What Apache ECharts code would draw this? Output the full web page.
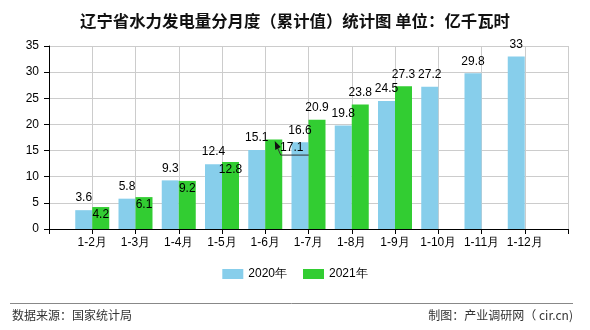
<!DOCTYPE html>
<html>
<head>
<meta charset="utf-8">
<script src="https://cdn.jsdelivr.net/npm/echarts@6/dist/echarts.min.js"></script>
<style>
  html, body { margin: 0; padding: 0; background: #fff; }
  #chart { width: 590px; height: 330px; }
</style>
</head>
<body>
<div id="chart"></div>
<script>
// Cumulative months; empty slots at both ends keep the grid edges free of bars.
const categories = ['', '1-2月', '1-3月', '1-4月', '1-5月', '1-6月', '1-7月', '1-8月', '1-9月', '1-10月', '1-11月', '1-12月', ''];
const values2020 = [null, 3.6, 5.8, 9.3, 12.4, 15.1, 16.6, 19.8, 24.5, 27.2, 29.8, 33, null];
const values2021 = [null, 4.2, 6.1, 9.2, 12.8, 17.1, 20.9, 23.8, 27.3, null, null, null, null];
const yTicks = { min: 0, max: 35, interval: 5 };

const chart = echarts.init(document.getElementById('chart'), null, { renderer: 'canvas' });

const numFont = 'Liberation Sans, Arial, sans-serif';
const cjkFont = '"Noto Sans CJK SC", sans-serif';
const calloutIndex = 5; // 1-6月 value label is pushed aside with a pointer

// 2021 labels: inside the bar top while the 2020 label sits close by,
// above the bar once the green bar is clearly taller.
const data2021 = values2021.map(function (v, i) {
  if (v == null) return v;
  if (i === calloutIndex) {
    return { value: v, label: { position: 'insideTop', distance: 2, offset: [18, 0] } };
  }
  if (i >= 6) {
    return { value: v, label: { position: 'top', distance: 6 } };
  }
  return v;
});

chart.setOption({
  animation: false,
  backgroundColor: '#fff',
  title: {
    text: '辽宁省水力发电量分月度（累计值）统计图 单位：亿千瓦时',
    left: 'center',
    top: 8,
    textStyle: { fontFamily: cjkFont, fontSize: 16.4, fontWeight: 'bold', color: '#111' }
  },
  grid: { left: 49, right: 22, top: 46, bottom: 101, containLabel: false },
  legend: {
    bottom: 45,
    left: 'center',
    itemWidth: 21,
    itemHeight: 10,
    itemGap: 16,
    icon: 'rect',
    textStyle: { fontFamily: numFont, fontSize: 12, color: '#000' },
    data: ['2020年', '2021年']
  },
  xAxis: {
    type: 'category',
    data: categories,
    boundaryGap: false,
    axisLine: { lineStyle: { color: '#000', width: 1 } },
    axisTick: { show: true, inside: false, length: 5, interval: 0, lineStyle: { color: '#000' } },
    axisLabel: { interval: 0, margin: 8, fontFamily: numFont, fontSize: 12, color: '#000' },
    splitLine: { show: true, interval: 0, lineStyle: { color: '#ccc', width: 1 } }
  },
  yAxis: {
    type: 'value',
    min: yTicks.min,
    max: yTicks.max,
    interval: yTicks.interval,
    axisLine: { show: true, lineStyle: { color: '#000', width: 1 } },
    axisTick: { show: true, length: 5, lineStyle: { color: '#000' } },
    axisLabel: { margin: 10, fontFamily: numFont, fontSize: 12, color: '#000' },
    splitLine: { show: true, lineStyle: { color: '#ccc', width: 1 } }
  },
  series: [
    {
      name: '2020年',
      type: 'bar',
      data: values2020,
      barWidth: 17,
      barGap: '0%',
      itemStyle: { color: '#87CEEB' },
      label: {
        show: true,
        position: 'top',
        distance: 6,
        fontFamily: numFont,
        fontSize: 12,
        color: '#000'
      }
    },
    {
      name: '2021年',
      type: 'bar',
      data: data2021,
      barWidth: 17,
      barGap: '0%',
      itemStyle: { color: '#32CD32' },
      label: {
        show: true,
        position: 'insideTop',
        distance: 2,
        fontFamily: numFont,
        fontSize: 12,
        color: '#000'
      }
    }
  ]
});

// Pointer from the 1-6月 green bar top to its displaced value label,
// placed from the bar's own pixel position on the axes; plus footer.
(function () {
  const p = chart.convertToPixel({ xAxisIndex: 0, yAxisIndex: 0 }, [calloutIndex, values2021[calloutIndex]]);
  const tx = p[0] + 9.5, ty = p[1] + 1.5;           // arrow tip near the bar's top
  const kx = tx + 6, ky = ty + 14;                  // knee below the label
  const ex = tx + 34;                               // end of the underline
  chart.setOption({
    graphic: [
      {
        id: 'footerRule',
        type: 'line',
        shape: { x1: 10, y1: 303.5, x2: 573, y2: 303.5 },
        style: { stroke: '#888', lineWidth: 1 }
      },
      {
        id: 'footerSource',
        type: 'text',
        left: 12,
        top: 309,
        style: { text: '数据来源：国家统计局', font: '12px "Noto Sans CJK SC", sans-serif', fill: '#333' }
      },
      {
        id: 'footerMaker',
        type: 'text',
        right: 17,
        top: 309,
        style: { text: '制图：产业调研网（ cir.cn)', font: '12px "Noto Sans CJK SC", sans-serif', fill: '#333' }
      },
      {
        id: 'calloutLine',
        type: 'polyline',
        shape: { points: [[tx + 2.5, ty + 6], [kx, ky], [ex, ky]] },
        style: { stroke: '#333', lineWidth: 1, fill: null },
        z: 100
      },
      {
        id: 'calloutArrow',
        type: 'polygon',
        shape: { points: [[tx, ty], [tx + 6, ty + 6], [tx + 0.5, ty + 8.8]] },
        style: { fill: '#111' },
        z: 100
      }
    ]
  });
})();
</script>
</body>
</html>
